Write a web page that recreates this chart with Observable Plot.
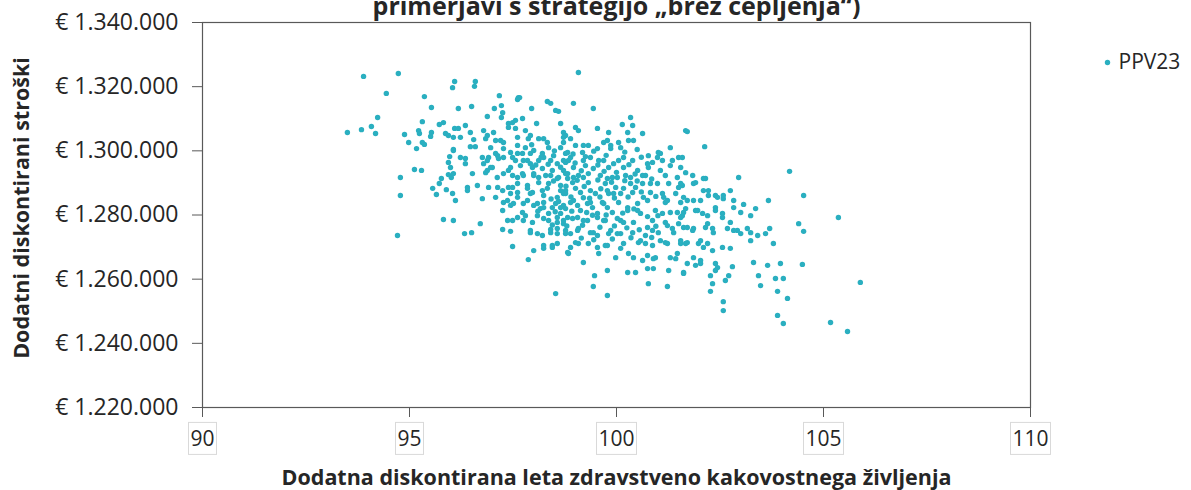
<!DOCTYPE html>
<html>
<head>
<meta charset="utf-8">
<script src="https://cdn.jsdelivr.net/npm/d3@7"></script>
<script src="https://cdn.jsdelivr.net/npm/@observablehq/plot@0.6"></script>
<style>
  html, body { margin: 0; padding: 0; background: #fff; overflow: hidden; }
  #chart svg { overflow: visible; }
</style>
</head>
<body>
<div id="chart"></div>
<script>
// Title (partly cut off at the top in the reference)
const titleText = "primerjavi s strategijo „brez cepljenja“)";
const xTitle = "Dodatna diskontirana leta zdravstveno kakovostnega življenja";
const yTitle = "Dodatni diskontirani stroški";
const seriesName = "PPV23";

const xTicks = [90, 95, 100, 105, 110];
const yTicks = [1220000, 1240000, 1260000, 1280000, 1300000, 1320000, 1340000];

// PPV23 simulation points: [additional discounted QALYs, additional discounted costs in thousand €]
const ppv23 = [
  [93.89,1323.2],[94.73,1324.1],[94.44,1317.9],[95.36,1316.9],[95.53,1313.5],[94.23,1310.4],[94.08,1307.6],
  [93.84,1306.6],[93.50,1305.7],[94.18,1305.4],[94.88,1305.1],[94.98,1302.6],[95.17,1300.7],[95.22,1306.3],
  [95.24,1305.4],[95.31,1309.1],[95.31,1302.6],[95.36,1302.0],[95.53,1305.7],[95.51,1304.5],[95.72,1308.2],
  [95.82,1308.8],[95.87,1305.4],[95.94,1304.8],[96.09,1321.6],[96.04,1319.7],[96.09,1307.0],[96.06,1300.4],
  [95.97,1298.2],[95.94,1296.4],[95.94,1292.6],[96.01,1291.7],[95.77,1291.4],[95.72,1289.8],[95.56,1288.3],
  [95.65,1286.4],[95.89,1287.9],[96.04,1286.7],[95.12,1294.2],[95.29,1293.9],[94.78,1291.7],[94.78,1286.1],
  [95.82,1278.6],[96.06,1278.3],[94.71,1273.6],
  [96.59,1321.6],[96.57,1320.1],[97.17,1317.2],[97.63,1316.6],[98.33,1315.4],[98.41,1314.8],[96.18,1313.2],
  [96.50,1313.8],[97.05,1313.2],[97.22,1314.1],[97.25,1311.9],[97.95,1313.2],[98.53,1312.6],[98.60,1312.3],
  [96.88,1310.7],[97.22,1310.4],[97.39,1308.5],[97.56,1309.5],[97.73,1310.1],[98.07,1308.5],[98.65,1308.5],
  [96.35,1307.9],[96.18,1307.0],[96.47,1305.7],[96.79,1306.3],[97.03,1305.7],[97.39,1307.3],[97.56,1307.0],
  [97.80,1306.3],[98.72,1305.7],[96.06,1304.2],[96.23,1304.2],[96.55,1303.5],[96.84,1303.8],[97.20,1303.2],
  [97.61,1304.2],[97.87,1303.8],[98.12,1303.8],[98.72,1304.2],[96.47,1301.3],[96.59,1301.3],[96.96,1301.0],
  [97.27,1300.7],[97.61,1301.7],[97.80,1301.0],[98.00,1300.1],[98.36,1301.0],[98.65,1301.0],[96.06,1300.1],
  [97.08,1299.2],[97.44,1299.5],[97.73,1299.2],[97.92,1299.2],[98.21,1299.2],[98.48,1298.5],[98.82,1299.5],
  [96.23,1297.9],[96.35,1297.6],[96.76,1297.9],[96.91,1297.9],[97.15,1297.6],[97.56,1297.0],[97.75,1297.0],
  [98.12,1297.0],[98.41,1297.0],[98.57,1296.0],[98.77,1296.4],[95.99,1294.8],[96.35,1296.0],[96.79,1296.0],
  [97.00,1294.8],[97.44,1294.8],[97.68,1295.4],[97.97,1294.8],[98.21,1294.5],[98.45,1293.9],[98.72,1293.9],
  [96.06,1292.9],[96.52,1292.9],[96.88,1293.9],[97.12,1291.7],[97.49,1292.3],[97.73,1292.9],[98.00,1292.3],
  [98.29,1292.3],[98.60,1291.7],[98.82,1291.4],[96.40,1288.6],[96.64,1289.2],[96.91,1288.6],[97.39,1288.6],
  [97.61,1289.8],[97.85,1289.2],[98.12,1290.1],[98.36,1289.8],[98.65,1289.2],[96.40,1287.6],[97.08,1285.5],
  [97.44,1286.7],[97.61,1285.5],[97.92,1286.7],[98.24,1286.1],[98.57,1285.5],[98.77,1286.7],[96.11,1284.5],
  [96.76,1285.1],[97.27,1283.9],[97.51,1283.6],[97.75,1283.6],[98.00,1283.0],[98.24,1283.9],[98.45,1282.3],
  [98.72,1283.0],[97.25,1281.4],[97.73,1280.8],[97.80,1279.8],[98.16,1282.0],[98.36,1280.5],[98.65,1280.5],
  [98.82,1279.2],[96.71,1277.3],[97.37,1278.3],[97.49,1278.3],[97.97,1277.7],[98.36,1278.3],[98.57,1277.7],
  [98.72,1277.3],[96.33,1274.2],[96.50,1274.5],[97.25,1275.5],[97.44,1274.9],[97.92,1274.5],[98.21,1273.6],
  [98.41,1275.5],[98.57,1274.2],[98.77,1274.2],[97.49,1270.2],[98.00,1268.9],[97.87,1266.1],[98.24,1269.6],
  [98.45,1270.5],[98.57,1271.1],[98.82,1268.3],[98.53,1255.5],
  [99.08,1324.4],[98.96,1314.8],[99.44,1313.2],[100.34,1310.4],[100.39,1307.9],[100.14,1308.2],[99.54,1307.0],
  [99.01,1307.3],[99.08,1306.3],[99.81,1305.7],[100.27,1305.7],[100.63,1305.4],[98.77,1304.8],[98.89,1303.8],
  [99.78,1303.2],[100.05,1302.6],[100.29,1303.2],[100.41,1303.2],[101.30,1301.0],[101.67,1306.3],[99.01,1301.7],
  [99.32,1301.7],[99.54,1300.7],[99.86,1300.7],[101.01,1299.5],[100.77,1298.5],[101.50,1297.9],[98.77,1299.2],
  [99.18,1299.5],[98.84,1297.0],[99.37,1297.9],[99.57,1297.0],[100.05,1297.0],[100.39,1297.0],[100.87,1296.4],
  [101.11,1297.0],[101.35,1297.0],[98.96,1294.8],[99.25,1295.4],[99.44,1294.5],[99.81,1294.8],[100.17,1294.8],
  [100.51,1293.9],[100.77,1294.8],[101.06,1293.9],[101.55,1294.8],[98.77,1292.9],[99.08,1292.3],[99.61,1292.3],
  [99.90,1291.7],[100.34,1291.7],[100.70,1292.3],[101.18,1292.3],[101.47,1291.7],[98.94,1290.1],[99.32,1290.1],
  [99.73,1289.8],[99.98,1288.6],[100.10,1286.7],[100.63,1289.8],[100.99,1289.8],[101.26,1289.8],[101.59,1289.2],
  [98.77,1287.6],[99.13,1287.0],[99.49,1286.7],[99.81,1286.7],[100.39,1287.0],[100.82,1287.0],[101.11,1286.7],
  [101.43,1286.7],[98.96,1284.5],[99.37,1283.9],[99.69,1283.6],[100.05,1283.9],[100.51,1283.6],[100.75,1284.5],
  [101.18,1283.9],[101.55,1283.9],[98.77,1282.0],[99.13,1281.4],[99.54,1280.5],[99.90,1280.8],[100.27,1281.4],
  [100.58,1280.5],[100.94,1281.4],[101.30,1280.8],[101.62,1280.8],[98.94,1278.9],[99.30,1278.3],[99.73,1278.3],
  [100.10,1278.3],[100.41,1277.7],[100.87,1278.3],[101.18,1277.7],[101.50,1277.3],[98.77,1275.2],[99.08,1275.8],
  [99.44,1274.5],[99.81,1274.2],[100.10,1274.2],[100.39,1274.5],[100.70,1273.6],[101.01,1274.5],[101.38,1274.5],
  [99.01,1271.4],[99.32,1271.1],[99.73,1270.5],[100.17,1271.1],[100.53,1271.4],[100.87,1270.5],[101.18,1271.4],
  [101.55,1271.1],[98.84,1268.0],[99.20,1265.2],[99.57,1268.0],[99.98,1266.7],[100.29,1268.0],[100.63,1265.8],
  [100.94,1266.7],[101.43,1266.4],[99.78,1262.7],[100.27,1262.1],[100.46,1262.1],[100.75,1263.3],[100.89,1263.3],
  [101.26,1262.7],[101.62,1262.1],[99.47,1261.1],[100.77,1258.6],[99.44,1257.7],[101.23,1257.7],[99.78,1254.9],
  [101.71,1306.0],[102.13,1301.3],[101.59,1297.9],[101.67,1293.2],[101.84,1292.3],[102.15,1291.4],[102.95,1291.7],
  [104.18,1293.6],[101.55,1289.8],[101.86,1289.8],[102.10,1287.6],[102.22,1287.6],[102.39,1286.1],[102.58,1285.1],
  [102.75,1287.6],[102.83,1284.5],[103.07,1283.3],[103.36,1282.0],[103.67,1284.5],[103.24,1279.8],[101.71,1284.5],
  [101.86,1284.5],[102.03,1284.5],[101.67,1282.0],[101.91,1281.4],[102.20,1279.8],[102.39,1282.3],[102.56,1279.2],
  [102.75,1277.7],[101.55,1279.2],[101.62,1276.1],[101.86,1275.8],[102.15,1276.1],[102.34,1274.5],[102.68,1275.8],
  [102.92,1275.2],[103.00,1274.2],[103.24,1274.5],[103.41,1273.6],[103.60,1274.2],[103.70,1275.8],[101.67,1271.1],
  [101.98,1271.1],[102.10,1269.9],[102.32,1268.9],[102.56,1269.9],[102.75,1269.6],[103.24,1272.0],[103.79,1271.1],
  [104.40,1277.3],[101.71,1264.9],[101.91,1264.3],[102.03,1264.9],[102.39,1264.9],[102.80,1263.9],[103.31,1265.2],
  [103.65,1264.3],[103.96,1264.9],[101.62,1261.8],[102.27,1261.1],[102.39,1262.7],[102.71,1261.1],[103.43,1261.1],
  [103.84,1260.2],[104.03,1260.2],[102.32,1258.6],[102.63,1259.6],[103.48,1258.0],[102.27,1256.2],[103.89,1256.2],
  [102.58,1253.0],[102.58,1250.2],[104.13,1254.0],[103.89,1248.7],[104.03,1246.2],
  [104.52,1286.1],[105.36,1279.2],[104.52,1274.9],[104.49,1264.6],[105.89,1259.0],[105.17,1246.5],[105.58,1243.7],
  // denser core, left half
  [97.66,1316.6],[97.61,1316.0],[97.49,1308.8],[96.88,1304.8],[97.08,1303.2],[97.27,1302.6],[97.92,1304.8],
  [98.24,1303.8],[98.33,1302.6],[98.72,1302.6],[99.20,1301.7],[99.69,1302.6],[99.86,1301.7],[100.10,1301.0],
  [96.88,1297.0],[97.13,1298.5],[97.27,1297.9],[97.49,1297.9],[97.61,1299.2],[97.85,1297.0],[97.92,1296.0],
  [98.24,1297.9],[98.72,1297.0],[98.89,1297.9],[99.20,1297.0],[99.69,1297.0],[99.93,1296.0],[100.17,1297.9],
  [96.84,1293.2],[96.96,1294.8],[97.27,1292.9],[97.39,1293.9],[97.61,1291.7],[97.75,1292.3],[98.00,1292.9],
  [98.12,1291.7],[98.41,1292.3],[98.57,1291.4],[98.82,1292.9],[98.96,1291.7],[99.20,1291.7],[99.32,1292.9],
  [99.78,1291.4],[100.02,1291.7],[100.22,1292.3],[97.13,1288.6],[97.25,1287.6],[97.49,1288.6],[97.61,1287.0],
  [97.85,1288.3],[97.97,1287.0],[98.21,1287.6],[98.33,1288.3],[98.65,1287.6],[98.72,1286.7],[99.01,1288.3],
  [99.37,1287.6],[99.78,1287.6],[99.93,1286.7],[100.17,1288.3],[97.37,1284.5],[97.44,1283.0],[97.85,1284.5],
  [98.09,1283.6],[98.24,1282.3],[98.53,1283.6],[98.65,1282.3],[98.89,1283.9],[99.06,1283.0],[99.30,1283.6],
  [99.42,1282.3],[99.66,1283.9],[99.78,1282.3],[100.27,1282.3],[97.61,1279.2],[97.75,1278.3],[98.09,1279.8],
  [98.24,1278.9],[98.57,1279.2],[98.72,1278.3],[99.06,1279.2],[99.20,1278.3],[99.54,1279.2],[99.69,1278.3],
  [100.02,1278.9],[100.17,1277.7],[97.92,1275.2],[98.09,1274.2],[98.41,1274.5],[98.57,1275.8],[98.89,1274.2],
  [99.06,1275.2],[99.37,1274.5],[99.54,1273.6],[99.86,1275.2],[100.02,1274.2],[98.24,1270.5],[98.45,1269.9],
  [98.89,1269.9],[99.08,1271.1],[99.54,1269.9],[99.78,1270.5],[100.10,1269.6],
  // denser core, right half
  [101.06,1299.2],[100.99,1297.9],[100.75,1296.0],[101.30,1295.4],[100.63,1292.3],[100.34,1289.8],[100.46,1288.6],
  [100.82,1289.8],[101.50,1288.6],[101.91,1290.1],[102.10,1291.4],[100.65,1285.5],[101.14,1285.5],[101.23,1284.5],
  [101.62,1285.5],[102.22,1286.1],[102.44,1285.5],[102.58,1286.1],[100.51,1281.4],[101.11,1280.5],[101.47,1280.8],
  [101.59,1279.8],[101.96,1281.4],[102.08,1280.5],[102.39,1281.4],[102.56,1280.5],[102.83,1282.3],[103.00,1280.8],
  [100.75,1276.1],[100.87,1275.2],[101.23,1276.7],[101.35,1275.8],[101.71,1276.1],[101.84,1275.2],[102.20,1277.3],
  [102.32,1275.8],[102.83,1275.2],[103.16,1275.8],[100.58,1272.0],[100.70,1271.1],[101.06,1272.0],[101.23,1271.1],
  [101.55,1272.0],[101.71,1271.4],[102.03,1272.0],[102.20,1271.1],[100.41,1266.7],[100.75,1267.4],[100.89,1266.4],
  [101.30,1266.7],[101.47,1268.0],[101.86,1266.7],[102.03,1265.8],[102.44,1263.6],
  // densest centre of the cloud
  [97.95,1301.9],[98.18,1298.0],[98.50,1300.0],[98.95,1299.0],[99.25,1298.2],[99.45,1299.9],[99.75,1298.6],
  [100.20,1299.6],[100.50,1300.4],[100.60,1298.0],[98.05,1295.6],[98.35,1295.8],[98.65,1294.9],[99.00,1296.2],
  [99.15,1293.8],[99.55,1295.6],[99.70,1293.6],[100.00,1293.3],[100.30,1295.7],[100.45,1292.8],[98.48,1290.6],
  [98.78,1289.0],[99.05,1290.8],[99.22,1288.9],[99.55,1290.9],[99.62,1288.2],[99.88,1290.2],[100.20,1290.7],
  [100.50,1290.6],[100.85,1291.2],[98.42,1285.0],[98.60,1284.2],[98.90,1285.6],[99.20,1285.4],[99.35,1285.2],
  [99.60,1285.6],[99.95,1285.3],[100.28,1285.6],[100.60,1287.2],[100.95,1285.8],[98.10,1281.2],[98.52,1281.0],
  [98.92,1281.2],[99.28,1280.8],[99.42,1279.9],[99.75,1280.0],[100.15,1280.6],[100.42,1281.9],[100.75,1279.5],
  [101.00,1279.8],[98.45,1276.9],[98.80,1276.6],[99.18,1276.8],[99.60,1276.2],[99.95,1276.6],[100.25,1276.0],
  [100.55,1275.4],[100.95,1276.5],[99.15,1272.8],[99.45,1272.3],[99.90,1272.5],[100.35,1272.9],[100.85,1273.0]
];

const data = ppv23.map(([q, c]) => ({ qaly: q, cost: c * 1000 }));

const euro = d => "€ " + d3.format(",")(d).replace(/,/g, ".");
const teal = "#2aafc0";
const ink = "#262626";

const chart = Plot.plot({
  width: 1191,
  height: 490,
  marginLeft: 202,
  marginRight: 161,
  marginTop: 22,
  marginBottom: 83,
  style: { fontFamily: "'Open Sans', sans-serif", fontSize: "20px", color: ink, background: "#fff" },
  x: { domain: [90, 110] },
  y: { domain: [1220000, 1340000] },
  marks: [
    Plot.frame({ stroke: "#595959", strokeWidth: 1.2 }),
    Plot.axisY({ ticks: yTicks, tickFormat: euro, tickSize: 10, tickPadding: 14, fontSize: 23, label: null, stroke: "#595959" }),
    Plot.axisX({ ticks: xTicks, tickFormat: d3.format("d"), tickSize: 10, tickPadding: 14, fontSize: 21, label: null, stroke: "#595959" }),
    Plot.dot(data, { x: "qaly", y: "cost", r: 2.7, fill: teal, stroke: "none" }),
    // axis titles
    Plot.text([yTitle], { frameAnchor: "left", dx: -180, dy: -7, rotate: -90, textAnchor: "middle", lineAnchor: "middle", fontWeight: "bold", fontSize: 21.5, fill: ink }),
    Plot.text([xTitle], { frameAnchor: "bottom", dy: 71, lineAnchor: "middle", fontWeight: "bold", fontSize: 21.5, fill: ink }),
    // title (cut at top, as in the reference)
    Plot.text([titleText], { frameAnchor: "top", dy: -16, lineAnchor: "middle", fontWeight: "bold", fontSize: 25, fill: ink }),
    // legend
    Plot.dot([seriesName], { frameAnchor: "top-right", dx: 77, dy: 40, r: 2.7, fill: teal }),
    Plot.text([seriesName], { frameAnchor: "top-right", dx: 88, dy: 40, textAnchor: "start", lineAnchor: "middle", fontSize: 21, fill: ink })
  ]
});

document.getElementById("chart").appendChild(chart);

// light boxes around the x tick labels, as in the reference
const svg = d3.select(chart);
svg.selectAll('g[aria-label="x-axis tick label"] text').each(function () {
  const b = this.getBBox();
  const t = this.getAttribute("transform");
  d3.select(this.parentNode).insert("rect", () => this)
    .attr("transform", t)
    .attr("x", b.x - 2).attr("y", b.y - 2)
    .attr("width", b.width + 4).attr("height", b.height + 4)
    .attr("fill", "none").attr("stroke", "#d9d9d9").attr("stroke-width", 1);
});
</script>
</body>
</html>
